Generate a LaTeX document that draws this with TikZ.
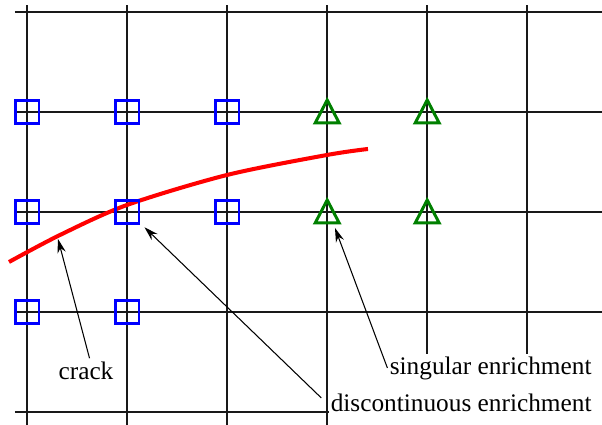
\documentclass[tikz,border=0pt]{standalone}
\usepackage{fontspec}
\setmainfont{Liberation Serif}
\usetikzlibrary{positioning, arrows.meta}

\begin{document}
\begin{tikzpicture}[x=1cm, y=1cm,
    font=\rmfamily\fontsize{7.2}{8.6}\selectfont,
    gridline/.style={line width=0.55pt, black!90},
    sqmark/.style={rectangle, draw=blue, line width=0.85pt, minimum size=0.236cm, inner sep=0pt},
    trimark/.pic={\draw[green!50!black, line width=0.85pt] (-0.12,-0.11) -- (0,0.12) -- (0.12,-0.11) -- cycle;},
    pointer/.style={-{Stealth[length=4pt, width=2.4pt]}, line width=0.3pt},
    lbl/.style={fill=white, inner xsep=0.5pt, inner ysep=1pt, text depth=4pt}]
    \useasboundingbox (0,0) rectangle (6.02,4.25);

    \foreach \i in {0,...,5}
        \draw[gridline] (0.272+\i,0) -- (0.272+\i,4.20);
    \foreach \j in {0,...,4}
        \draw[gridline] (0.15,4.13-\j) -- (6.02,4.13-\j);

    \draw[red, line width=1.15pt] plot[smooth] coordinates {(0.09,1.63) (0.60,1.90) (1.27,2.20) (2.27,2.50) (3.27,2.70) (3.68,2.76)};

    \node[sqmark] (a1) at (0.272,3.13) {};
    \node[sqmark] (b1) at (1.272,3.13) {};
    \node[sqmark] (c1) at (2.272,3.13) {};
    \node[sqmark] (a2) at (0.272,2.13) {};
    \node[sqmark] (b2) at (1.272,2.13) {};
    \node[sqmark] (c2) at (2.272,2.13) {};
    \node[sqmark] (a3) at (0.272,1.13) {};
    \node[sqmark] (b3) at (1.272,1.13) {};
    \pic (d1) at (3.272,3.13) {trimark};
    \pic (e1) at (4.272,3.13) {trimark};
    \pic (d2) at (3.272,2.13) {trimark};
    \pic (e2) at (4.272,2.13) {trimark};

    \coordinate (crk) at (0.58,1.86);
    \coordinate (tri) at (3.35,1.97);

    \node[lbl, fill=none, anchor=base] (crklbl) at (0.86,0.45) {crack};
    \node[lbl, anchor=base east] (sing) at (6.03,0.50) {singular enrichment\hspace*{0.9mm}};
    \node[lbl, anchor=base east] (disc) at (6.03,0.13) {discontinuous enrichment\hspace*{0.9mm}};

    \draw[pointer] ([xshift=1pt]crklbl.north) -- (crk);
    \draw[pointer] ([yshift=1.5pt]sing.west) -- (tri);
    \draw[pointer] ([shift={(-2pt,3.5pt)}]disc.west) -- ([shift={(0.04,-0.02)}]b2.south east);
\end{tikzpicture}
\end{document}
